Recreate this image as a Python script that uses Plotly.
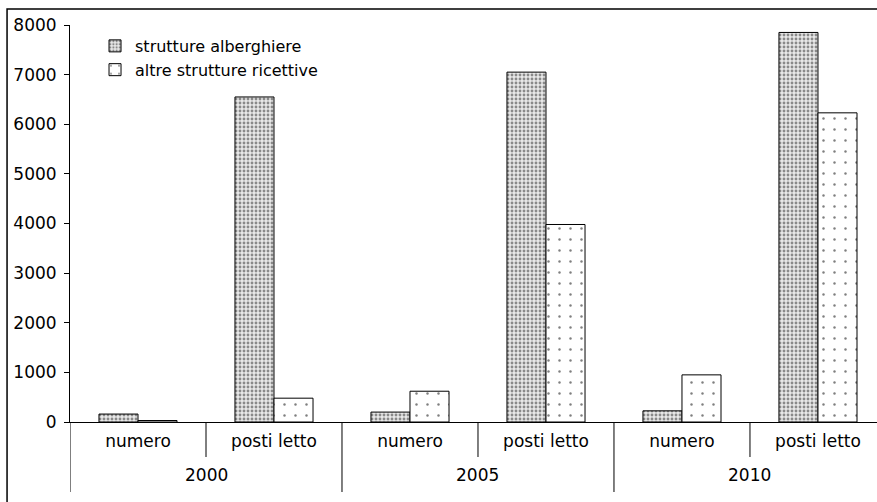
import plotly.graph_objects as go

# Tourism accommodation: number of establishments and bed places by year
years = ["2000", "2005", "2010"]
measures = ["numero", "posti letto"]
alberghiere = [160, 6550, 200, 7050, 225, 7850]
altre = [30, 480, 620, 3980, 950, 6230]
y_ticks = [0, 1000, 2000, 3000, 4000, 5000, 6000, 7000, 8000]

FONT = "DejaVu Sans"
PLOT_H = 502 - 25 - 80  # plot area height in px

# one slot per (year, measure) pair, laid out year by year
n_sub = len(measures)
pos = list(range(len(years) * n_sub))
tick_text = [measures[i % n_sub] for i in pos]

fig = go.Figure()
fig.add_trace(go.Bar(
    x=pos, y=alberghiere, name="strutture alberghiere",
    legendgroup="a",
    marker=dict(color="#c8c8c8", line=dict(color="black", width=1),
                pattern=dict(shape=".", size=4, solidity=0.4,
                             fgcolor="#2a2a2a", bgcolor="#e8e8e8",
                             fillmode="overlay")),
))
fig.add_trace(go.Bar(
    x=pos, y=altre, name="altre strutture ricettive",
    legendgroup="b",
    marker=dict(color="white", line=dict(color="black", width=1),
                pattern=dict(shape=".", size=11, solidity=0.04,
                             fgcolor="black", bgcolor="white",
                             fillmode="overlay")),
))

# separators below the axis: short ones between measures, long ones between years
shapes = []
inner_len = 35 / PLOT_H
outer_len = 70 / PLOT_H
for g in range(len(years)):
    start = g * n_sub - 0.5
    shapes.append(dict(type="line", xref="x", yref="paper", x0=start, x1=start,
                       y0=0, y1=-outer_len, line=dict(color="black", width=1)))
    for k in range(1, n_sub):
        xs = start + k
        shapes.append(dict(type="line", xref="x", yref="paper", x0=xs, x1=xs,
                           y0=0, y1=-inner_len, line=dict(color="black", width=1)))

# chart frame
shapes.append(dict(type="rect", xref="paper", yref="paper",
                   x0=-0.078, x1=1.2, y0=-0.4, y1=1.040,
                   line=dict(color="black", width=1.5), layer="below"))

annotations = []
for g, yr in enumerate(years):
    annotations.append(dict(text=yr, xref="x", yref="paper",
                            x=g * n_sub + (n_sub - 1) / 2, y=-53 / PLOT_H,
                            xanchor="center", yanchor="middle", showarrow=False,
                            font=dict(family=FONT, size=17, color="black")))

fig.update_layout(
    width=877, height=502,
    margin=dict(l=70, r=0, t=25, b=80),
    paper_bgcolor="white", plot_bgcolor="white",
    barmode="group", bargap=0.426, bargroupgap=0,
    font=dict(family=FONT, size=17, color="black"),
    showlegend=True,
    legend=dict(x=0.031, y=0.99, xanchor="left", yanchor="top",
                bgcolor="rgba(0,0,0,0)", font=dict(size=16),
                tracegroupgap=0, itemwidth=30),
    xaxis=dict(range=[-0.5, 5.434], tickvals=pos, ticktext=tick_text,
               showline=True, linecolor="black", linewidth=1,
               ticks="", ticklabelstandoff=4,
               showgrid=False, zeroline=False,
               tickfont=dict(family=FONT, size=17, color="black")),
    yaxis=dict(range=[0, 8000], tickvals=y_ticks,
               showline=True, linecolor="black", linewidth=1,
               ticks="outside", ticklen=5, tickcolor="black",
               ticklabelstandoff=4,
               showgrid=False, zeroline=False,
               tickfont=dict(family=FONT, size=17, color="black")),
    shapes=shapes,
    annotations=annotations,
)

fig.write_html("out.html")
